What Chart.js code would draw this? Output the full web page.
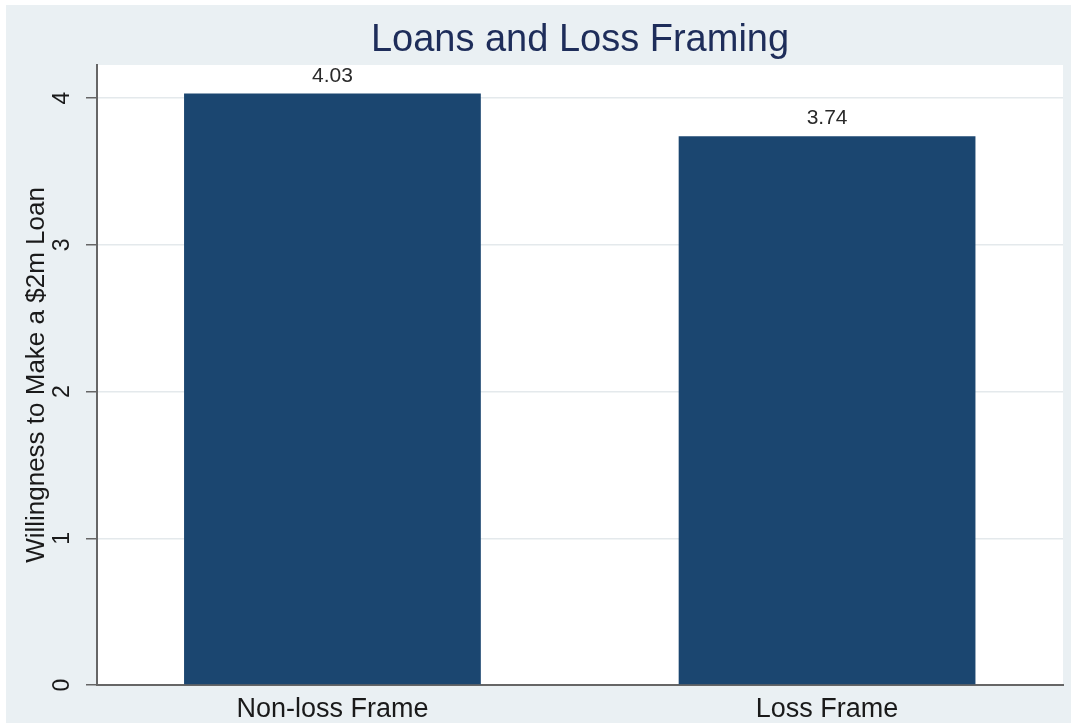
<!DOCTYPE html>
<html>
<head>
<meta charset="utf-8">
<script src="https://cdn.jsdelivr.net/npm/chart.js@4"></script>
<style>
  html, body { margin: 0; padding: 0; background: #fff; }
  #wrap { width: 1071px; height: 723px; }
</style>
</head>
<body>
<div id="wrap"><canvas id="loanChart" width="1071" height="723"></canvas></div>
<script>
// data
let categories = ["Non-loss Frame", "Loss Frame"];
let values = [4.03, 3.74];
let yTicks = [0, 1, 2, 3, 4];

let chartTitle = "Loans and Loss Framing";
let yTitle = "Willingness to Make a $2m Loan";

// background: grey frame, white plot region
const backdrop = {
    id: "backdrop",
    beforeDraw(chart) {
        const c = chart.ctx;
        const a = chart.chartArea;
        c.save();
        c.fillStyle = "#ffffff";
        c.fillRect(0, 0, chart.width, chart.height);
        c.fillStyle = "#eaf0f3";
        c.fillRect(6, 5, chart.width - 6, chart.height - 5);
        c.fillStyle = "#ffffff";
        c.fillRect(a.left, a.top, a.right - a.left, a.bottom - a.top);
        c.restore();
    }
};

// title centred over the plot region
const plotTitle = {
    id: "plotTitle",
    afterDraw(chart) {
        const c = chart.ctx;
        const a = chart.chartArea;
        c.save();
        c.font = "38px 'Liberation Sans', Arial, sans-serif";
        c.fillStyle = "#1e2d5a";
        c.textAlign = "center";
        c.textBaseline = "middle";
        c.fillText(chartTitle, (a.left + a.right) / 2, 41);
        c.restore();
    }
};

// value labels above each bar
const barLabels = {
    id: "barLabels",
    afterDatasetsDraw(chart) {
        const c = chart.ctx;
        const meta = chart.getDatasetMeta(0);
        c.save();
        c.font = "21px 'Liberation Sans', Arial, sans-serif";
        c.fillStyle = "#2a2a2a";
        c.textAlign = "center";
        c.textBaseline = "bottom";
        meta.data.forEach((bar, i) => {
            c.fillText(values[i].toFixed(2), bar.x, bar.y - 7);
        });
        c.restore();
    }
};

let ctx = document.getElementById("loanChart").getContext("2d");

new Chart(ctx, {
    type: "bar",
    data: {
        datasets: [{
            data: values.map((v, i) => ({ x: i, y: v })),
            backgroundColor: "#1b4670",
            borderWidth: 0,
            barPercentage: 0.6,
            categoryPercentage: 1
        }]
    },
    options: {
        responsive: false,
        animation: false,
        layout: { padding: { top: 65, right: 8, left: 0, bottom: 0 } },
        plugins: {
            legend: { display: false },
            tooltip: { enabled: false }
        },
        scales: {
            x: {
                type: "linear",
                offset: false,
                min: -0.476,
                max: 1.477,
                afterBuildTicks: (scale) => {
                    scale.ticks = categories.map((c, i) => ({ value: i }));
                },
                afterFit: (scale) => { scale.height = 38; },
                grid: { display: false, drawTicks: false },
                border: { color: "#666666", width: 2 },
                ticks: {
                    padding: 8,
                    color: "#1a1a1a",
                    maxRotation: 0,
                    font: { family: "'Liberation Sans', Arial, sans-serif", size: 27 },
                    callback: (v) => categories[v]
                }
            },
            y: {
                min: 0,
                max: 4.225,
                afterBuildTicks: (scale) => {
                    scale.ticks = yTicks.map((v) => ({ value: v }));
                },
                afterFit: (scale) => { scale.width = 97; },
                grid: {
                    color: (c) => (c.tick && c.tick.value === 0 ? "rgba(0,0,0,0)" : "#e4e9ec"),
                    lineWidth: 1.5,
                    tickColor: "#666666",
                    tickLength: 11
                },
                border: { color: "#666666", width: 2 },
                ticks: {
                    color: "#1a1a1a",
                    minRotation: 90,
                    maxRotation: 90,
                    crossAlign: "center",
                    padding: 17,
                    font: { family: "'Liberation Sans', Arial, sans-serif", size: 23 }
                },
                title: {
                    display: true,
                    text: yTitle,
                    color: "#1a1a1a",
                    padding: { top: 21, bottom: 0 },
                    font: { family: "'Liberation Sans', Arial, sans-serif", size: 26 }
                }
            }
        }
    },
    plugins: [backdrop, plotTitle, barLabels]
});
</script>
</body>
</html>
